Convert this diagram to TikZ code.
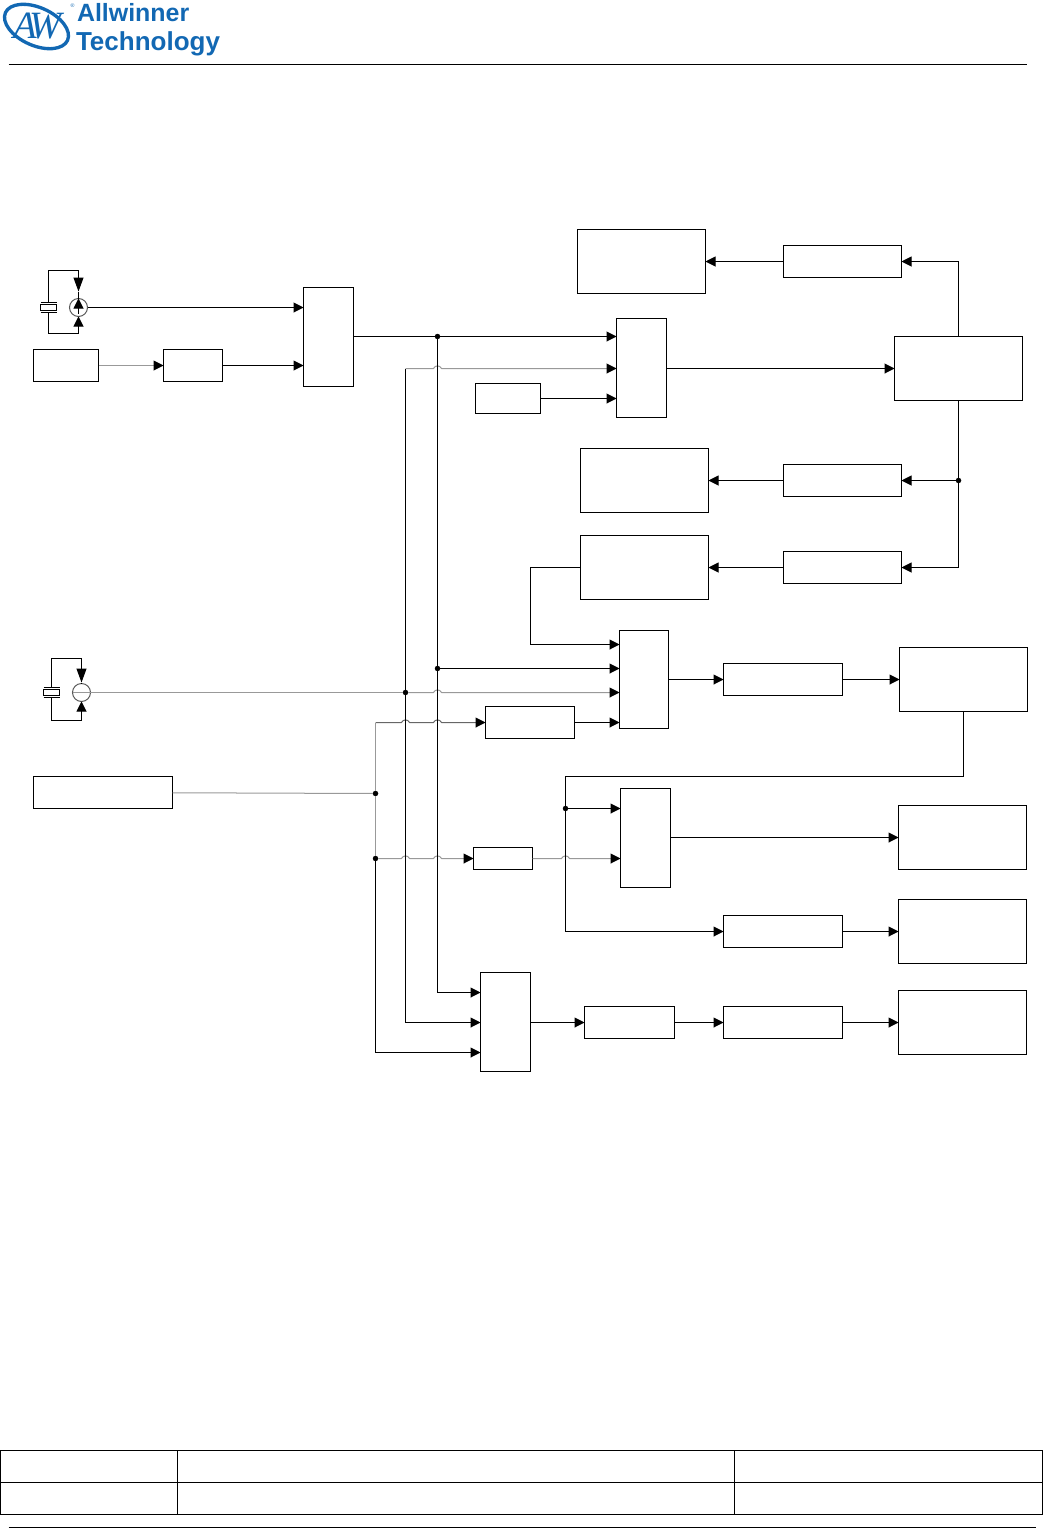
\documentclass[tikz,border=0pt]{standalone}
\usepackage{fontspec}
\setmainfont{Liberation Sans}
\newfontfamily\markfont{Liberation Serif}
\usetikzlibrary{arrows.meta}
\definecolor{logoblue}{HTML}{1268B3}
\newcommand{\hopover}[2]{-- ([xshift=-0.08cm]#1 |- #2) .. controls ++(1.5,-3.5) and ++(-1.5,-3.5) .. ++(8,0)}
\tikzset{
  >={Triangle[length=0.2cm,width=0.2cm,color=black]},
  blk/.style 2 args={draw,inner sep=0pt,outer sep=0pt,minimum width=#1*0.02cm,minimum height=#2*0.02cm},
  muxbox/.style={blk={50}{99}},
  outbox/.style={blk={128}{64}},
  midbox/.style={blk={118}{32}},
  gatebox/.style={blk={119}{32}},
  dot/.style={circle,fill=black,inner sep=0pt,outer sep=0pt,minimum size=0.11cm},
  osc/.style={circle,draw=black!65,inner sep=0pt,outer sep=0pt,minimum size=0.36cm},
  xtal/.style={blk={16}{6}},
  wire/.style={line width=0.57pt},
  softwire/.style={wire,black!40},
  longtip/.style={-{Triangle[length=0.28cm,width=0.2cm,color=black]}}
}
\begin{document}
\begin{tikzpicture}[x=0.02cm,y=-0.02cm,line width=0.57pt]
  \useasboundingbox (-0.5,-0.5) rectangle (1042.5,1527.5);
  \draw[logoblue,line width=1.9pt,rotate around={-24:(36,26)}] (36,26) ellipse (34 and 19);
  \node[logoblue,font={\markfont\itshape\fontsize{22}{22}\selectfont}] (awmark) at (37,26) {A\kern-0.2em W};
  \node[logoblue,inner sep=0pt,font={\fontsize{3}{3}\selectfont}] (regmark) at (72,5) {®};
  \node[logoblue,anchor=base west,inner sep=0pt,font={\bfseries\fontsize{14.2}{15}\selectfont}] (brandtop) at (76,21) {Allwinner};
  \node[logoblue,anchor=base west,inner sep=0pt,font={\bfseries\fontsize{14.8}{15}\selectfont}] (brandlow) at (75,50) {Technology};
  \draw (8,64) -- (1026,64);

  \node[xtal] (xtal1) at (48,307) {};
  \node[osc] (osc1) at (78,307) {};
  \node[xtal] (xtal2) at (51,692) {};
  \node[osc] (osc2) at (81,692) {};
  \node[blk={65}{32}] (src1) at (65.5,365) {};
  \node[blk={59}{32}] (div1) at (192.5,365) {};
  \node[muxbox] (mux1) at (328,336.5) {};
  \node[muxbox] (mux2) at (641,367.5) {};
  \node[blk={65}{30}] (ref1) at (507.5,398) {};
  \node[outbox] (out1) at (641,261) {};
  \node[midbox] (ch1) at (842,261) {};
  \node[outbox] (pll) at (958,368) {};
  \node[outbox] (out2) at (644,480) {};
  \node[midbox] (ch2) at (842,480) {};
  \node[outbox] (out3) at (644,567) {};
  \node[midbox] (ch3) at (842,567) {};
  \node[blk={49}{98}] (mux3) at (643.5,679) {};
  \node[gatebox] (gate4) at (782.5,679) {};
  \node[outbox] (out4) at (963,679) {};
  \node[blk={89}{32}] (gate5) at (529.5,722) {};
  \node[blk={139}{32}] (src2) at (102.5,792) {};
  \node[muxbox] (mux4) at (645,837.5) {};
  \node[outbox] (out5) at (962,837) {};
  \node[blk={59}{22}] (gate6) at (502.5,858) {};
  \node[gatebox] (gate7) at (782.5,931) {};
  \node[outbox] (out6) at (962,931) {};
  \node[muxbox] (mux5) at (505,1021.5) {};
  \node[blk={90}{32}] (gate8) at (629,1022) {};
  \node[gatebox] (gate9) at (782.5,1022) {};
  \node[outbox] (out7) at (962,1022) {};

  \node[dot] (tapa) at (437,336) {};
  \node[dot] (tapb) at (437,668) {};
  \node[dot] (tapc) at (405,692) {};
  \node[dot] (tapd) at (375,793) {};
  \node[dot] (tape) at (375,858) {};
  \node[dot] (tapf) at (565,808) {};
  \node[dot] (tapg) at (958,480) {};
  \coordinate (bendc) at (405,368);
  \coordinate (bendd) at (375,722);
  \coordinate (bendf) at (565,776);
  \coordinate (xtop1) at (48,270);
  \coordinate (xlow1) at (48,333);
  \coordinate (xtop2) at (51,658);
  \coordinate (xlow2) at (51,720);

  \draw (40,302) -- (56,302) (40,312) -- (56,312) (43,687) -- (59,687) (43,697) -- (59,697);
  \draw (xtal1) ++(0,-5) -- (xtop1) -- (xtop1 -| osc1) (xtal1) ++(0,5) -- (xlow1) -- (xlow1 -| osc1);
  \draw[longtip] (xtop1 -| osc1) -- (78,291);
  \draw (78,291) -- (osc1.north);
  \draw[->] (xlow1 -| osc1) -- (osc1.south);
  \draw[->] (78,313) -- (osc1.north);
  \draw[->] (osc1.east) -- (osc1.east -| mux1.west);
  \draw[softwire,->] (src1) -- (div1);
  \draw[->] (div1) -- (div1 -| mux1.west);

  \draw (xtal2) ++(0,-5) -- (xtop2) -- (xtop2 -| osc2) (xtal2) ++(0,5) -- (xlow2) -- (xlow2 -| osc2);
  \draw[longtip] (xtop2 -| osc2) -- (81,682);
  \draw (81,682) -- (osc2.north);
  \draw[->] (xlow2 -| osc2) -- (osc2.south);
  \draw[softwire] (osc2.west) -- (osc2.east) -- (tapc);
  \draw[softwire,->] (tapc) \hopover{tapa}{tapc} -- (tapc -| mux3.west);
  \draw[softwire,->] (bendc) \hopover{tapa}{bendc} -- (bendc -| mux2.west);
  \draw[softwire] (src2) -- (tapd);
  \draw[softwire] (bendd) -- (tapd) -- (tape);
  \draw[wire,black!60,->] (bendd) \hopover{tapc}{bendd} \hopover{tapa}{bendd} -- (gate5.west);
  \draw[softwire,->] (tape) \hopover{tapc}{tape} \hopover{tapa}{tape} -- (gate6.west);
  \draw[softwire,->] (gate6) \hopover{tapf}{gate6} -- (gate6 -| mux4.west);

  \draw (mux1.east |- tapa) -- (tapa);
  \draw[->] (tapa) -- (tapa -| mux2.west);
  \draw[->] (tapa) -- (tapb) -- (tapa |- 0,992) -- (480,992);
  \draw[->] (tapb) -- (tapb -| mux3.west);
  \draw[->] (bendc) -- (tapc) -- (tapc |- gate8) -- (gate8 -| mux5.west);
  \draw[->] (tape) -- (tape |- 0,1052) -- (480,1052);
  \draw[->] (ref1) -- (ref1 -| mux2.west);
  \draw[->] (mux2.east |- pll) -- (pll.west);

  \draw[->] (pll.north) -- (pll.north |- ch1) -- (ch1.east);
  \draw[->] (ch1) -- (ch1 -| out1.east);
  \draw[->] (tapg) -- (ch2);
  \draw[->] (ch2) -- (ch2 -| out2.east);
  \draw[->] (pll.south) -- (tapg) -- (tapg |- ch3) -- (ch3);
  \draw[->] (ch3) -- (ch3 -| out3.east);
  \draw[->] (out3.west) -- (530,567) -- (530,644) -- (mux3.west |- 0,644);
  \draw[->] (mux3.east |- gate4) -- (gate4);
  \draw[->] (gate4) -- (out4);
  \draw[->] (gate5) -- (gate5 -| mux3.west);

  \draw[->] (out4.south) -- (out4.south |- bendf) -- (bendf) -- (tapf) -- (tapf |- gate7) -- (gate7);
  \draw[->] (tapf) -- (tapf -| mux4.west);
  \draw[->] (mux4.east |- out5) -- (out5);
  \draw[->] (gate7) -- (out6);
  \draw[->] (mux5.east |- gate8) -- (gate8);
  \draw[->] (gate8) -- (gate9);
  \draw[->] (gate9) -- (out7);

  \draw (0,1450) rectangle (1042,1514) (0,1482) -- (1042,1482) (177,1450) -- (177,1514) (734,1450) -- (734,1514);
  \draw (8,1527) -- (1035,1527);
\end{tikzpicture}
\end{document}
